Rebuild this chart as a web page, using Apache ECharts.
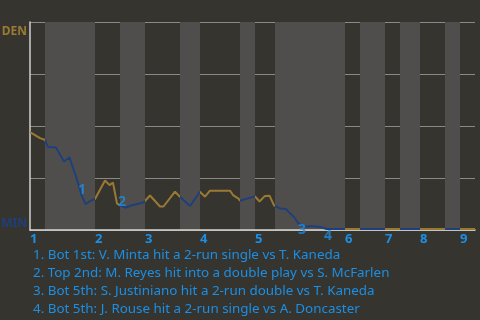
<!DOCTYPE html>
<html><head><meta charset="utf-8">
<script src="https://cdn.jsdelivr.net/npm/echarts@6/dist/echarts.min.js"></script>
<style>html,body{margin:0;padding:0;background:#36342f;}#c{width:480px;height:320px;}</style>
</head><body><div id="c"></div>
<script>
// plate appearances in each half-inning (top 1st, bot 1st, top 2nd, ...)
var halfInningPAs = [3,10,5,5,7,4,8,3,4,14,3,5,3,4,5,3,3];
var inningLabels = ['1','2','3','4','5','6','7','8','9'];
// win-probability curve: position in game (PA index) and DEN win probability
var gamePos = [0,2,3,3.6,5.2,6.8,7.9,8.6,9.3,10.3,11.1,12,13,15,15.9,16.6,17.4,18,19.1,20.4,22.7,23,24,26,26.7,29,30,32,34,35,36,40,40.6,41.7,42,43,44.3,45,45.9,47,47.9,48.8,49.3,50,51.2,52,52.8,53.7,54.3,55.3,56.3,58.3,59.3,63,89];
var denWinProb = [0.471,0.442,0.433,0.399,0.397,0.329,0.349,0.298,0.25,0.168,0.124,0.139,0.149,0.238,0.216,0.228,0.127,0.12,0.107,0.119,0.132,0.137,0.166,0.113,0.113,0.184,0.16,0.115,0.184,0.16,0.189,0.189,0.168,0.151,0.141,0.148,0.157,0.162,0.137,0.164,0.165,0.118,0.112,0.103,0.101,0.08,0.0625,0.032,0.024,0.016,0.019,0.013,0.005,0.005,0.005];
// key-play annotation markers
var noteIds = ['1','2','3','4'];
var noteX = [10.4,18.4,54.4,59.6];
var noteY = [0.19,0.135,0.0,-0.03];
var noteTexts = [
  '1. Bot 1st: V. Minta hit a 2-run single vs T. Kaneda',
  '2. Top 2nd: M. Reyes hit into a double play vs S. McFarlen',
  '3. Bot 5th: S. Justiniano hit a 2-run double vs T. Kaneda',
  '4. Bot 5th: J. Rouse hit a 2-run single vs A. Doncaster'
];
var teamTop = 'DEN', teamBottom = 'MIN';

var GOLD = '#9a7a33', BLUE = '#1f3f7c', NOTE = '#1c8fe4';
var bounds = [0];
halfInningPAs.forEach(function(n){ bounds.push(bounds[bounds.length-1] + n); });
var total = bounds[bounds.length-1];
var inningStarts = [];
for (var i = 0; i < bounds.length-1; i += 2) inningStarts.push(bounds[i]);
var bands = [], pieces = [];
for (var j = 0; j < bounds.length-1; j++) {
  pieces.push({gte: bounds[j], lt: bounds[j+1] + (j === bounds.length-2 ? 1 : 0), color: j % 2 === 0 ? GOLD : BLUE});
  if (j % 2 === 1) bands.push([{xAxis: bounds[j]}, {xAxis: bounds[j+1]}]);
}
var lineData = gamePos.map(function(x, k){ return [x, denWinProb[k]]; });
var noteData = noteX.map(function(x, k){ return {value: [x, noteY[k]], label: {formatter: noteIds[k]}}; });
var FONT = 'Noto Sans';

var chart = echarts.init(document.getElementById('c'), null, {renderer: 'canvas'});
chart.setOption({
  backgroundColor: '#36342f',
  animation: false,
  title: {
    text: noteTexts.join('\n'), left: 28, top: 241,
    textStyle: {color: NOTE, fontSize: 13.4, fontWeight: 'normal', fontFamily: FONT, lineHeight: 18}
  },
  grid: {left: 30, right: 5, top: 22, bottom: 90, outerBoundsMode: 'none', containLabel: false},
  xAxis: {
    type: 'value', min: 0, max: total,
    axisLine: {show: true, onZero: false, lineStyle: {color: '#d6d6d6', width: 1.5}},
    axisTick: {show: false},
    splitLine: {show: false},
    axisLabel: {
      customValues: inningStarts, align: 'left', margin: 3,
      color: NOTE, fontSize: 13, fontWeight: 'bold', fontFamily: FONT,
      formatter: function(v){ var k = inningStarts.indexOf(v); return k >= 0 ? inningLabels[k] : ''; }
    }
  },
  yAxis: {
    type: 'value', min: 0, max: 1, interval: 0.25,
    axisLine: {show: true, lineStyle: {color: '#cfcfcf', width: 1.5}},
    axisTick: {show: false},
    splitLine: {show: true, lineStyle: {color: '#8a8987', width: 1}},
    axisLabel: {
      margin: 3, fontFamily: FONT, fontWeight: 'bold', fontSize: 12,
      formatter: function(v){ if (v === 1) return '{d|' + teamTop + '}'; if (v === 0) return '{m|' + teamBottom + '}'; return ''; },
      rich: {
        d: {color: GOLD, fontWeight: 'bold', fontSize: 12, fontFamily: FONT, padding: [19,0,0,0]},
        m: {color: BLUE, fontWeight: 'bold', fontSize: 12, fontFamily: FONT, padding: [0,0,12,0]}
      }
    }
  },
  visualMap: {show: false, type: 'piecewise', dimension: 0, seriesIndex: 0, pieces: pieces},
  series: [
    {
      type: 'line', data: lineData, symbol: 'none', z: 3,
      lineStyle: {width: 2},
      markArea: {silent: true, itemStyle: {color: '#4f4e4c'}, data: bands, z: 0}
    },
    {
      type: 'scatter', data: noteData, symbolSize: 0, clip: false, z: 4,
      label: {show: true, position: 'inside', color: NOTE, fontSize: 14, fontWeight: 'bold', fontFamily: FONT}
    }
  ]
});
</script></body></html>
